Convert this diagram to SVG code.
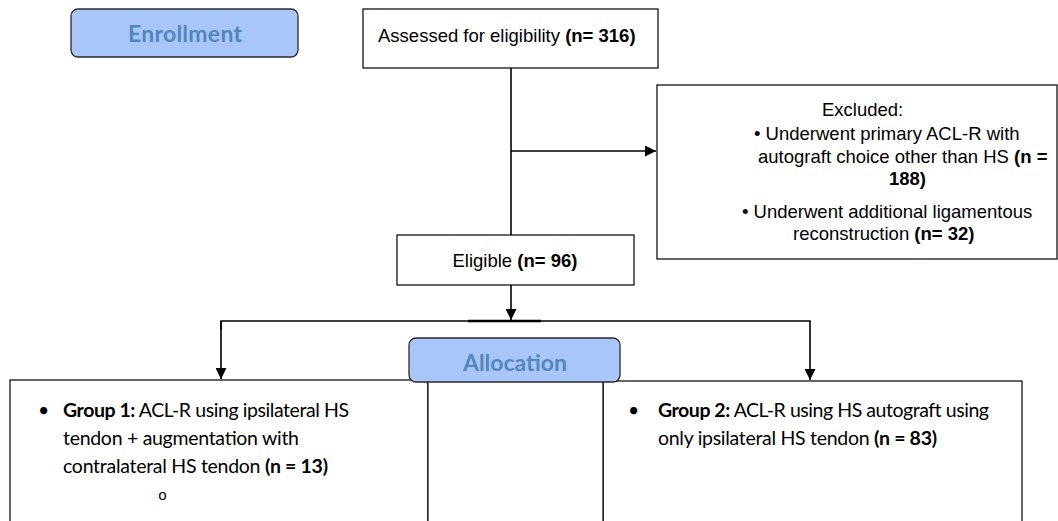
<svg xmlns="http://www.w3.org/2000/svg" width="1058" height="521" viewBox="0 0 1058 521">
  <style>
    .box { fill: #ffffff; stroke: #000000; stroke-width: 1.2; }
    .phase { fill: #a8c7f8; stroke: #2b2b2b; stroke-width: 1.3; }
    .phase-t { font-family: Lato, "Open Sans", sans-serif; font-weight: bold; font-size: 23px; fill: #5385c0; text-anchor: middle; }
    .arial { font-family: "Liberation Sans", Arial, sans-serif; font-size: 18.5px; fill: #000000; }
    .cal { font-family: Lato, "Open Sans", sans-serif; font-size: 19.5px; fill: #000000; }
    .b { font-weight: bold; }
    .line { fill: none; stroke: #000000; stroke-width: 1.6; }
  </style>
  <defs>
    <marker id="arr" viewBox="0 0 10 10" refX="10" refY="5" markerWidth="11" markerHeight="11" markerUnits="userSpaceOnUse" orient="auto">
      <path d="M0,0 L10,5 L0,10 Z" fill="#000000"/>
    </marker>
  </defs>

  <rect width="1058" height="521" fill="#ffffff"/>

  <g id="connectors">
    <line class="line" x1="511" y1="68" x2="511" y2="235"/>
    <line class="line" x1="511" y1="151" x2="656" y2="151" marker-end="url(#arr)"/>
    <line class="line" x1="511" y1="285" x2="511" y2="320" marker-end="url(#arr)"/>
    <polyline class="line" points="221,330 221,321 810,321 810,380" marker-end="url(#arr)"/>
    <line x1="468" y1="321" x2="541" y2="321" stroke="#000000" stroke-width="2.4"/>
    <line class="line" x1="221" y1="321" x2="221" y2="379" marker-end="url(#arr)"/>
  </g>

  <g id="group1">
    <rect class="box" x="10" y="380" width="418" height="160"/>
    <text class="cal" x="38" y="417">•</text>
    <text class="cal" x="63" y="417" textLength="286"><tspan class="b">Group 1:</tspan> ACL-R using ipsilateral HS</text>
    <text class="cal" x="63" y="445" textLength="236">tendon + augmentation with</text>
    <text class="cal" x="63" y="473" textLength="265">contralateral HS tendon <tspan class="b">(n = 13)</tspan></text>
    <text x="158" y="500" font-family="Liberation Mono, monospace" font-size="15px" fill="#000000">o</text>
  </g>

  <g id="group2">
    <rect class="box" x="603" y="381" width="419" height="160"/>
    <text class="cal" x="628" y="417">•</text>
    <text class="cal" x="658" y="417" textLength="331"><tspan class="b">Group 2:</tspan> ACL-R using HS autograft using</text>
    <text class="cal" x="658" y="445" textLength="279">only ipsilateral HS tendon <tspan class="b">(n = 83)</tspan></text>
  </g>

  <g id="enrollment">
    <rect class="phase" x="71" y="9" width="227" height="48" rx="7"/>
    <text class="phase-t" x="185" y="42" textLength="114">Enrollment</text>
  </g>

  <g id="assessed">
    <rect class="box" x="363" y="9" width="295" height="59"/>
    <text class="arial" x="378" y="42">Assessed for eligibility <tspan class="b">(n= 316)</tspan></text>
  </g>

  <g id="excluded">
    <rect class="box" x="657" y="85" width="400" height="174"/>
    <text class="arial" x="822" y="116">Excluded:</text>
    <text class="arial" x="754" y="140">• Underwent primary ACL-R with</text>
    <text class="arial" x="758" y="163">autograft choice other than HS <tspan class="b">(n =</tspan></text>
    <text class="arial b" x="889" y="185">188)</text>
    <text class="arial" x="742" y="218">• Underwent additional ligamentous</text>
    <text class="arial" x="793" y="240">reconstruction <tspan class="b">(n= 32)</tspan></text>
  </g>

  <g id="eligible">
    <rect class="box" x="397" y="235" width="237" height="50"/>
    <text class="arial" x="515" y="267" text-anchor="middle">Eligible <tspan class="b">(n= 96)</tspan></text>
  </g>

  <g id="allocation">
    <rect class="box" x="428" y="381" width="175" height="160" fill="none"/>
    <rect class="phase" x="409" y="338" width="211" height="44" rx="7"/>
    <text class="phase-t" x="515" y="371" textLength="104">Allocation</text>
  </g>
</svg>
